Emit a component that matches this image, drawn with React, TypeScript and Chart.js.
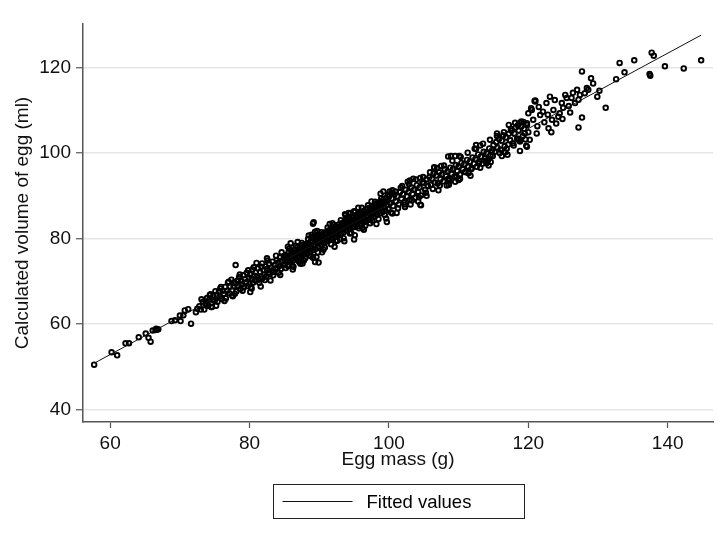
import React, { useEffect, useRef } from 'react';
import { Chart, registerables } from 'chart.js';

Chart.register(...registerables);

const FONT = '"Liberation Sans", Arial, Helvetica, sans-serif';

const xTicks = [60, 80, 100, 120, 140];
const yTicks = [40, 60, 80, 100, 120];
const xMin = 56.1;
const xMax = 146.5;
const yMin = 37.1;
const yMax = 130.2;
const xTitle = 'Egg mass (g)';
const yTitle = 'Calculated volume of egg (ml)';
const legendLabel = 'Fitted values';

// Small eggs (sparse lower tail)
const massLow = [57.7, 60.2, 61.0, 62.2, 62.7, 64.1, 65.1, 65.5, 65.8, 66.1, 66.5, 66.7, 66.9, 66.6, 68.8, 69.3, 70.1, 71.6, 70.0, 70.5, 70.7, 71.2, 72.3, 72.5, 73.1, 74.6, 73.8, 78.0];
const volLow = [50.5, 53.4, 52.7, 55.5, 55.5, 56.9, 57.8, 56.8, 55.9, 58.5, 58.6, 58.7, 58.8, 58.9, 60.7, 60.9, 60.7, 60.1, 62.0, 62.1, 63.2, 63.5, 62.8, 63.6, 65.8, 64.0, 64.4, 73.8];

// 72-78 g
const massA = [72.8, 73.0, 73.3, 73.5, 73.7, 73.9, 74.1, 74.2, 74.4, 74.5, 74.7, 74.8, 75.0, 75.1, 75.3, 75.4, 75.6, 75.7, 75.9, 76.0, 76.2, 76.3, 76.5, 76.6, 76.8, 76.9, 77.1, 77.2, 77.4, 77.5, 77.7, 77.8];
const volA = [64.2, 63.4, 65.2, 63.4, 64.8, 66.1, 64.3, 65.7, 67.0, 64.0, 65.7, 66.7, 65.4, 67.7, 66.8, 65.2, 67.7, 66.4, 68.7, 65.9, 67.8, 67.1, 68.7, 66.0, 67.8, 69.7, 67.2, 68.8, 70.4, 66.7, 68.8, 69.8];

// 78-85 g
const massB = [78.0, 78.1, 78.3, 78.4, 78.5, 78.7, 78.8, 78.9, 79.1, 79.2, 79.3, 79.5, 79.6, 79.7, 79.9, 80.0, 80.1, 80.3, 80.4, 80.5, 80.7, 80.8, 80.9, 81.1, 81.2, 81.3, 81.5, 81.6, 81.7, 81.9, 82.0, 82.1, 82.3, 82.4, 82.5, 82.7, 82.8, 82.9, 83.1, 83.2, 83.3, 83.5, 83.6, 83.7, 83.9, 84.0, 84.1, 84.3, 84.4, 84.5, 84.7, 84.8, 84.9];
const volB = [69.5, 67.6, 70.2, 68.9, 71.0, 68.2, 70.0, 69.3, 71.4, 68.6, 70.5, 69.8, 72.0, 68.9, 70.9, 69.4, 71.6, 70.6, 72.8, 69.7, 71.3, 70.2, 72.1, 71.0, 73.0, 70.4, 72.2, 71.1, 73.4, 70.8, 72.6, 71.6, 73.5, 71.2, 72.9, 72.0, 74.1, 71.7, 73.2, 72.5, 74.6, 72.2, 73.8, 72.9, 75.0, 73.1, 74.4, 73.6, 75.6, 72.9, 74.8, 73.9, 75.9];

// 85-95 g
const massC = [
  85.0, 85.1, 85.2, 85.3, 85.4, 85.5, 85.6, 85.7, 85.8, 85.9,
  86.0, 86.1, 86.2, 86.3, 86.4, 86.5, 86.6, 86.7, 86.8, 86.9,
  87.0, 87.1, 87.2, 87.3, 87.4, 87.5, 87.6, 87.7, 87.8, 87.9,
  88.0, 88.1, 88.2, 88.3, 88.4, 88.5, 88.6, 88.7, 88.8, 88.9,
  89.0, 89.1, 89.2, 89.3, 89.4, 89.5, 89.6, 89.7, 89.8, 89.9,
  90.0, 90.1, 90.2, 90.3, 90.4, 90.5, 90.6, 90.7, 90.8, 90.9,
  91.0, 91.1, 91.2, 91.3, 91.4, 91.5, 91.6, 91.7, 91.8, 91.9,
  92.0, 92.1, 92.2, 92.3, 92.4, 92.5, 92.6, 92.7, 92.8, 92.9,
  93.0, 93.1, 93.2, 93.3, 93.4, 93.5, 93.6, 93.7, 93.8, 93.9,
  94.0, 94.1, 94.2, 94.3, 94.4, 94.5, 94.6, 94.7, 94.8, 94.9,
  86.3, 87.8, 88.9, 90.6, 91.9, 93.0, 94.2, 86.9, 92.4, 89.7,
];
const volC = [
  75.2, 73.9, 76.1, 74.8, 75.7, 73.6, 76.8, 75.0, 76.0, 74.5,
  77.0, 75.4, 76.4, 74.9, 77.3, 75.8, 76.7, 75.2, 77.9, 76.1,
  77.1, 75.6, 78.0, 76.5, 77.5, 75.8, 78.5, 76.9, 77.8, 76.3,
  78.6, 77.2, 78.2, 76.6, 79.0, 77.5, 78.7, 76.9, 79.4, 78.0,
  79.1, 77.3, 80.0, 78.4, 79.5, 77.6, 80.3, 78.9, 79.9, 78.1,
  80.6, 79.2, 80.1, 78.5, 81.0, 79.6, 80.5, 78.9, 81.4, 80.0,
  81.0, 79.3, 81.8, 80.4, 81.3, 79.6, 82.2, 80.8, 81.7, 80.1,
  82.5, 81.1, 82.0, 80.4, 82.9, 81.5, 82.4, 80.8, 83.3, 81.9,
  82.8, 81.1, 83.6, 82.2, 83.1, 81.5, 84.0, 82.6, 83.5, 81.9,
  84.3, 83.0, 83.9, 82.2, 84.7, 83.3, 84.2, 82.6, 85.0, 83.7,
  73.4, 74.9, 80.9, 77.4, 83.6, 79.9, 86.0, 79.2, 79.5, 81.8,
];

// scattered points in the 77-95 g range
const massMid = [81.0, 83.0, 80.3, 77.6, 85.9, 87.6, 89.1, 89.2, 89.4, 89.4, 89.9, 89.1, 89.6, 93.8, 95.0, 94.4, 95.0, 93.7];
const volMid = [74.3, 70.2, 68.3, 66.5, 78.9, 74.2, 83.5, 83.8, 81.6, 74.5, 74.4, 75.6, 75.7, 85.5, 86.4, 81.2, 79.8, 85.7];

// 95-105 g
const massD = [
  95.0, 95.1, 95.2, 95.3, 95.4, 95.5, 95.6, 95.7, 95.8, 95.9,
  96.0, 96.1, 96.2, 96.3, 96.4, 96.5, 96.6, 96.7, 96.8, 96.9,
  97.0, 97.1, 97.2, 97.3, 97.4, 97.5, 97.6, 97.7, 97.8, 97.9,
  98.0, 98.1, 98.2, 98.3, 98.4, 98.5, 98.6, 98.7, 98.8, 98.9,
  99.0, 99.1, 99.2, 99.3, 99.4, 99.5, 99.6, 99.7, 99.8, 99.9,
  100.0, 100.2, 100.4, 100.6, 100.8, 101.0, 101.2, 101.4, 101.6, 101.8,
  102.0, 102.2, 102.4, 102.6, 102.8, 103.0, 103.2, 103.4, 103.6, 103.8,
  104.0, 104.2, 104.4, 104.6, 104.8,
  95.6, 97.3, 98.8, 100.5, 101.9, 103.1, 104.5, 96.2, 99.2, 102.7,
];
const volD = [
  84.3, 82.7, 85.4, 83.8, 84.9, 82.9, 85.8, 84.2, 85.2, 83.4,
  86.0, 84.6, 85.6, 83.7, 86.5, 84.9, 85.9, 84.1, 86.9, 85.3,
  86.3, 84.4, 87.2, 85.7, 86.7, 84.8, 87.6, 86.0, 87.0, 85.1,
  87.9, 86.4, 87.4, 85.5, 88.4, 86.8, 87.8, 85.9, 88.7, 87.1,
  88.1, 86.2, 89.1, 87.5, 88.5, 86.6, 89.5, 87.9, 88.9, 86.9,
  89.8, 88.3, 89.4, 87.6, 90.3, 88.7, 89.9, 88.0, 90.9, 89.3,
  90.4, 88.5, 91.4, 89.8, 90.9, 89.1, 92.0, 90.4, 91.4, 89.6,
  92.5, 90.9, 92.0, 90.1, 93.1,
  87.2, 83.6, 90.5, 85.9, 92.3, 88.0, 94.2, 82.5, 91.0, 93.3,
];

// scattered points in the 99-121 g range
const massUpperMid = [99.7, 100.4, 100.1, 104.6, 103.0, 104.5, 108.5, 108.9, 109.5, 110.0, 114.0, 117.2, 118.1, 118.8, 118.8, 119.7, 118.6, 120.4, 120.9, 121.0];
const volUpperMid = [83.9, 90.6, 91.0, 87.8, 93.6, 87.9, 99.2, 99.3, 93.3, 93.7, 97.6, 106.6, 107.1, 107.1, 100.5, 101.7, 103.1, 110.5, 112.2, 112.3];

// 105-115 g
const massE = [
  105.0, 105.2, 105.4, 105.6, 105.8, 106.0, 106.2, 106.4, 106.6, 106.8,
  107.0, 107.2, 107.4, 107.6, 107.8, 108.0, 108.2, 108.4, 108.6, 108.8,
  109.0, 109.2, 109.4, 109.6, 109.8, 110.0, 110.2, 110.4, 110.6, 110.8,
  111.0, 111.2, 111.4, 111.6, 111.8, 112.0, 112.2, 112.4, 112.6, 112.8,
  113.0, 113.2, 113.4, 113.6, 113.8, 114.0, 114.2, 114.4, 114.6, 114.8,
  106.5, 108.3, 110.1, 111.7, 113.1, 114.3, 107.5, 112.5,
];
const volE = [
  93.0, 91.4, 93.9, 92.3, 94.4, 92.6, 94.0, 95.2, 93.1, 94.8,
  92.9, 95.5, 93.9, 95.0, 93.4, 96.2, 94.6, 95.7, 93.8, 96.6,
  95.1, 96.3, 94.5, 97.2, 95.8, 96.9, 95.0, 97.7, 96.2, 97.4,
  95.6, 98.4, 96.8, 98.0, 96.2, 99.0, 97.5, 98.6, 96.8, 99.7,
  98.0, 99.2, 97.5, 100.3, 98.8, 100.0, 98.3, 101.1, 99.5, 100.6,
  96.7, 92.4, 99.3, 94.7, 101.8, 97.1, 97.0, 101.0,
];

// 115-120 g
const massF = [115.0, 115.2, 115.4, 115.6, 115.8, 116.0, 116.2, 116.4, 116.6, 116.7, 116.8, 117.0, 117.1, 117.2, 117.4, 117.6, 117.8, 118.0, 118.2, 118.4, 118.6, 118.8, 119.0, 119.2, 119.4, 119.6, 119.8, 120.0];
const volF = [101.9, 100.3, 102.6, 101.2, 103.3, 100.8, 102.9, 104.2, 101.6, 100.2, 103.7, 99.6, 102.0, 104.5, 103.0, 105.2, 102.3, 104.6, 106.0, 103.4, 105.3, 102.7, 106.2, 104.0, 105.7, 103.2, 107.0, 104.9];

// upper and lower edges of the main band, 74-120 g
const massEdge = [
  74.3, 75.2, 75.8, 76.4, 77.0, 77.9, 78.6, 79.0, 79.8, 80.2, 80.6, 81.4, 81.8, 82.2, 82.6, 83.4, 83.8, 84.2, 84.6, 85.2,
  85.7, 86.1, 86.6, 87.1, 87.5, 88.0, 88.4, 88.8, 89.3, 89.8, 90.3, 90.8, 91.2, 91.7, 92.1, 92.6, 93.1, 93.5, 93.9, 94.6,
  95.1, 95.7, 96.1, 96.6, 97.0, 97.6, 98.0, 98.5, 98.9, 99.4, 99.9, 100.3, 100.9, 101.3, 101.7, 102.3, 102.9, 103.3, 103.9, 104.3,
  104.9, 105.3, 105.9, 106.3, 106.9, 107.3, 107.9, 108.5, 108.7, 109.1, 109.7, 110.3, 110.9, 111.3, 111.9, 112.3, 112.9, 113.5, 113.9, 114.5,
  114.9, 115.5, 115.9, 116.5, 116.9, 117.5, 117.9, 118.5, 118.9, 119.3,
];
const volEdge = [
  66.8, 64.3, 68.3, 65.4, 69.9, 67.1, 71.6, 67.8, 72.6, 68.6, 73.3, 69.7, 74.2, 70.3, 74.9, 71.4, 76.0, 72.0, 76.8, 73.1,
  77.6, 73.7, 78.3, 74.6, 79.0, 75.4, 79.9, 75.9, 80.6, 76.8, 81.5, 77.9, 82.6, 78.7, 83.2, 79.5, 84.3, 80.1, 84.9, 81.3,
  86.2, 82.4, 87.2, 83.0, 87.8, 84.2, 88.6, 84.6, 89.4, 85.5, 90.3, 86.1, 91.0, 87.1, 91.9, 88.0, 92.7, 88.9, 93.8, 89.7,
  94.4, 90.7, 95.5, 91.6, 96.5, 92.4, 97.1, 94.0, 93.6, 98.2, 94.5, 99.1, 95.6, 100.1, 96.5, 101.0, 97.6, 102.2, 98.2, 103.1,
  99.3, 104.0, 100.0, 104.9, 101.0, 105.7, 101.8, 106.5, 103.1, 107.3,
];

// wider scatter around the band, 80-116 g
const massWide = [
  80.1, 81.6, 84.4, 86.2, 87.3, 89.1, 90.4, 92.2, 93.6, 95.1, 96.4, 98.2, 99.6, 101.1, 102.3, 104.2, 105.4, 107.1, 108.6, 110.2, 111.4, 113.1, 114.6, 116.2,
  82.5, 85.5, 88.5, 91.5, 94.5, 97.5, 100.5, 103.5, 106.5, 109.5, 112.5, 115.5,
];
const volWide = [
  67.5, 68.8, 71.5, 72.8, 74.1, 75.5, 76.8, 78.1, 79.4, 80.8, 82.1, 83.4, 84.7, 86.0, 87.4, 88.7, 90.0, 91.3, 92.6, 94.0, 95.3, 96.6, 97.9, 99.3,
  75.4, 78.1, 80.7, 83.4, 86.0, 88.7, 91.3, 94.0, 96.6, 99.3, 101.9, 104.6,
];

// 119-128 g
const massG = [127.0, 127.4, 127.2, 126.7, 126.2, 125.5, 125.3, 124.8, 124.5, 124.3, 123.6, 123.4, 122.9, 122.6, 123.1, 122.1, 121.7, 121.0, 120.7, 120.5, 120.0, 119.8, 119.5, 120.2, 119.8, 121.2, 119.0,
  121.5, 122.3, 123.8, 124.0, 125.0, 125.8, 126.4, 121.3, 122.8, 124.9, 126.0, 123.3];
const volG = [114.8, 113.6, 112.5, 111.7, 112.9, 112.9, 113.6, 111.7, 109.3, 108.5, 110.1, 107.8, 105.8, 111.7, 113.2, 109.7, 108.9, 112.1, 107.8, 110.1, 109.3, 106.6, 104.6, 103.1, 101.5, 104.6, 107.4,
  110.8, 107.2, 112.4, 106.9, 110.6, 111.0, 114.1, 106.3, 109.0, 108.0, 109.5, 104.9];

// Largest eggs (sparse upper tail)
const massHigh = [127.7, 133.1, 135.2, 137.7, 138.0, 133.8, 132.6, 137.4, 137.5, 139.6, 142.3, 144.8, 131.1, 130.2, 129.9, 129.0, 129.3, 128.4, 128.6, 128.1, 127.7, 127.2];
const volHigh = [119.1, 121.1, 121.7, 123.5, 122.8, 118.9, 117.3, 118.5, 118.1, 120.3, 119.8, 121.7, 110.6, 114.6, 113.2, 117.5, 116.3, 115.2, 114.8, 114.0, 108.3, 106.0];

const eggMass: number[] = [...massLow, ...massA, ...massB, ...massC, ...massMid, ...massD, ...massUpperMid, ...massE, ...massF, ...massEdge, ...massWide, ...massG, ...massHigh];
const eggVolume: number[] = [...volLow, ...volA, ...volB, ...volC, ...volMid, ...volD, ...volUpperMid, ...volE, ...volF, ...volEdge, ...volWide, ...volG, ...volHigh];

function linearFit(xs: number[], ys: number[]) {
  const n = Math.min(xs.length, ys.length);
  let sx = 0, sy = 0;
  for (let i = 0; i < n; i++) { sx += xs[i]; sy += ys[i]; }
  const mx = sx / n, my = sy / n;
  let sxy = 0, sxx = 0;
  for (let i = 0; i < n; i++) {
    sxy += (xs[i] - mx) * (ys[i] - my);
    sxx += (xs[i] - mx) * (xs[i] - mx);
  }
  const slope = sxy / sxx;
  return { slope, intercept: my - slope * mx };
}

export default function App() {
  const ref = useRef<HTMLCanvasElement>(null);

  useEffect(() => {
    document.body.style.margin = '0';
    const canvas = ref.current;
    if (!canvas) return;

    const n = Math.min(eggMass.length, eggVolume.length);
    const points = [] as { x: number; y: number }[];
    for (let i = 0; i < n; i++) points.push({ x: eggMass[i], y: eggVolume[i] });

    const { slope, intercept } = linearFit(eggMass.slice(0, n), eggVolume.slice(0, n));
    const lo = Math.min(...eggMass);
    const hi = Math.max(...eggMass);
    const fitted = [
      { x: lo, y: intercept + slope * lo },
      { x: hi, y: intercept + slope * hi },
    ];

    const boxLegend = {
      id: 'boxLegend',
      afterDraw(chart: any) {
        const { ctx, chartArea } = chart;
        const cx = (chartArea.left + chartArea.right) / 2;
        const w = 251;
        const h = 34;
        const x0 = Math.round(cx - w / 2) + 0.5;
        const y0 = Math.round(chartArea.bottom + 62) + 0.5;
        ctx.save();
        ctx.strokeStyle = '#222';
        ctx.lineWidth = 1;
        ctx.strokeRect(x0, y0, w, h);
        ctx.beginPath();
        ctx.moveTo(x0 + 9, y0 + h / 2);
        ctx.lineTo(x0 + 79, y0 + h / 2);
        ctx.strokeStyle = '#111';
        ctx.stroke();
        ctx.fillStyle = '#000';
        ctx.font = `18.5px ${FONT}`;
        ctx.textBaseline = 'middle';
        ctx.textAlign = 'left';
        ctx.fillText(legendLabel, x0 + 93, y0 + h / 2 + 1);
        ctx.restore();
      },
    };

    const chart = new Chart(canvas, {
      type: 'scatter',
      data: {
        datasets: [
          {
            label: legendLabel,
            data: fitted,
            showLine: true,
            borderColor: '#111',
            borderWidth: 1,
            pointRadius: 0,
            pointHoverRadius: 0,
            fill: false,
          } as any,
          {
            label: yTitle,
            data: points,
            showLine: false,
            pointRadius: 2.3,
            pointHoverRadius: 2.3,
            pointBorderWidth: 1.9,
            pointBorderColor: '#000',
            pointBackgroundColor: 'rgba(0,0,0,0)',
            borderColor: '#000',
            backgroundColor: 'rgba(0,0,0,0)',
          } as any,
        ],
      },
      options: {
        responsive: false,
        animation: false,
        devicePixelRatio: 1,
        events: [],
        layout: { padding: { top: 24, right: 11, left: 0, bottom: 0 } },
        plugins: {
          legend: { display: false },
          tooltip: { enabled: false },
        },
        scales: {
          x: {
            type: 'linear',
            min: xMin,
            max: xMax,
            afterFit: (s: any) => { s.height = 120; },
            afterBuildTicks: (s: any) => { s.ticks = xTicks.map((v) => ({ value: v })); },
            grid: { drawOnChartArea: false, drawTicks: true, tickLength: 6, tickColor: '#555', tickWidth: 1.2 },
            border: { display: true, color: '#555', width: 1.5 },
            ticks: { font: { family: FONT, size: 19 }, color: '#111', padding: 4, maxRotation: 0, autoSkip: false },
            title: { display: true, text: xTitle, font: { family: FONT, size: 19 }, color: '#111', padding: { top: 0, bottom: 70.4 } },
          },
          y: {
            type: 'linear',
            min: yMin,
            max: yMax,
            afterFit: (s: any) => { s.width = 83; },
            afterBuildTicks: (s: any) => { s.ticks = yTicks.map((v) => ({ value: v })); },
            grid: { color: '#e6e6e6', lineWidth: 1.5, drawTicks: true, tickLength: 7, tickColor: '#555', tickWidth: 1.2 },
            border: { display: true, color: '#555', width: 1.5 },
            ticks: { font: { family: FONT, size: 19 }, color: '#111', padding: 5, autoSkip: false },
            title: { display: true, text: yTitle, font: { family: FONT, size: 19 }, color: '#111', padding: { top: 11, bottom: 0 } },
          },
        },
      } as any,
      plugins: [boxLegend],
    });

    return () => chart.destroy();
  }, []);

  return (
    <canvas
      ref={ref}
      width={724}
      height={542}
      style={{ display: 'block', width: 724, height: 542 }}
    />
  );
}
